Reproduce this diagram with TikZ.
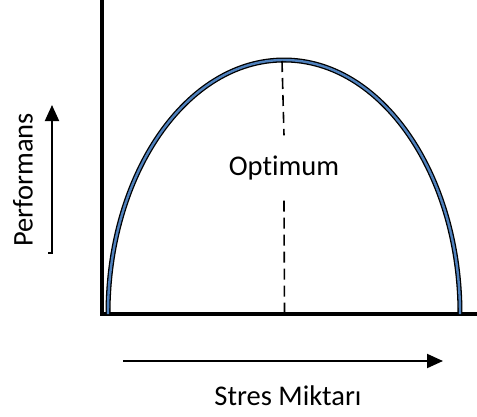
\documentclass[tikz,border=0pt]{standalone}
\usepackage{fontspec}
\setmainfont[Ligatures=NoCommon]{Carlito}
\usepackage{tikz}
\usetikzlibrary{arrows.meta}
\definecolor{curveblue}{HTML}{4F81BD}

\begin{document}
\begin{tikzpicture}[
    x=1pt,y=-1pt,
    font=\fontsize{28.5}{34}\selectfont,
    axis/.style={draw=black,line width=4pt},
    pointer/.style={draw=black,line width=2pt,-{Triangle[length=16pt,width=14pt]}},
    curveout/.style={draw=black,line width=5pt},
    curvein/.style={draw=curveblue,line width=2.4pt},
    optline/.style={draw=black,line width=1.6pt,dash pattern=on 11pt off 6pt}
]
\useasboundingbox (0,0) rectangle (477,416);

% Axes.
\coordinate (origin) at (102,314);
\coordinate (ytop) at (102,0);
\coordinate (xend) at (477,314);
\draw[axis] (ytop) -- (102,316);
\draw[axis] (100,314) -- (xend);

% Performance curve, drawn twice for the outlined band.
\coordinate (left) at (108,314);
\coordinate (right) at (460,314);
\draw[curveout] (right) arc[start angle=0,end angle=-180,x radius=176,y radius=254];
\draw[curvein] (right) arc[start angle=0,end angle=-180,x radius=176,y radius=254];

% Optimum line with its label.
\coordinate (peak) at (282,61);
\coordinate (base) at (284.5,314);
\node[minimum height=65pt,inner sep=0pt] (opt) at (284,168) {Optimum};
\draw[optline] (peak) -- (opt.north);
\draw[optline] (opt.south) -- (base);

% Axis labels and their arrows.
\coordinate (xfrom) at (123,361);
\coordinate (xto) at (443,361);
\draw[pointer] (xfrom) -- (xto);
\node (xlab) at (288,396) {Stres Miktarı};

\coordinate (yfrom) at (52,253);
\coordinate (yto) at (52,105);
\draw[pointer] (48,253) -- (yfrom) -- (yto);
\node[rotate=90] (ylab) at (23,180) {Performans};
\end{tikzpicture}
\end{document}
